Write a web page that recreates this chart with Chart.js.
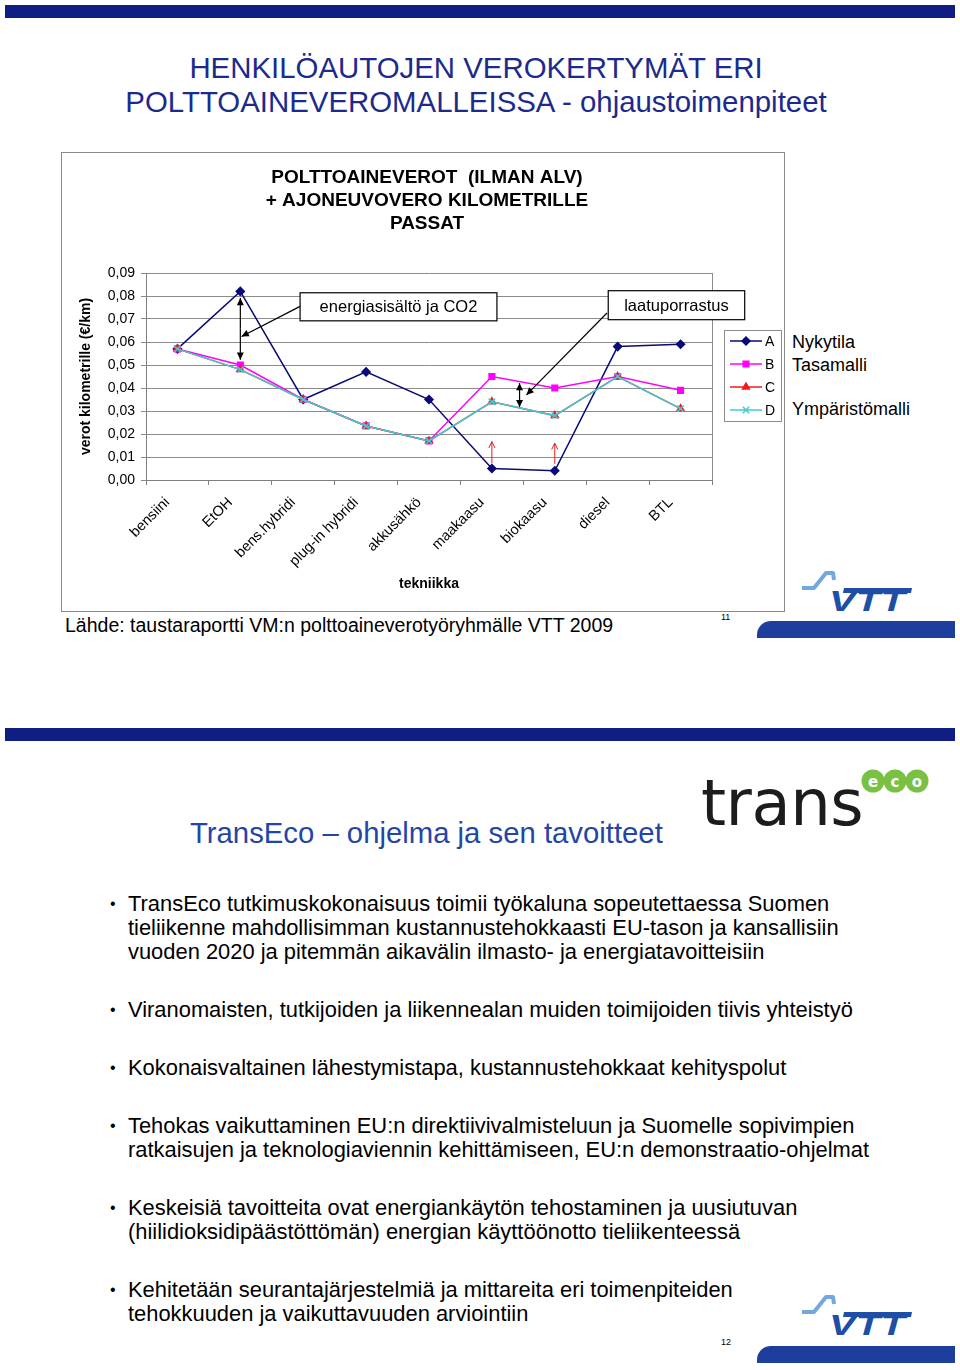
<!DOCTYPE html>
<html>
<head>
<meta charset="utf-8">
<script src="https://cdn.jsdelivr.net/npm/chart.js@4.4.0/dist/chart.umd.min.js"></script>
<style>
  body { margin: 0; width: 960px; height: 1370px; position: relative; background: #fff; overflow: hidden;
         font-family: "Liberation Sans", Arial, sans-serif; color: #000; }
  .topbar { position: absolute; left: 5px; width: 950px; height: 13px; background: #101d82; }
  .footbar { position: absolute; left: 757px; width: 198px; height: 17px; background: #1e3e9e; border-top-left-radius: 14px; }
  .abs { position: absolute; white-space: nowrap; }
  .slidetitle { color: #1c2a8e; font-size: 29.4px; line-height: 34px; text-align: center; }
  .pagenum { font-size: 9px; }
  #chartBox { position: absolute; left: 61px; top: 152px; width: 722px; height: 458px; border: 1px solid #8a8a8a; }
  .model { font-size: 18px; }
  ul { position: absolute; left: 110px; top: 892px; margin: 0; padding: 0; list-style: none; width: 840px; }
  li { position: relative; padding-left: 18px; font-size: 21.9px; line-height: 24px; margin-bottom: 34px; }
  li::before { content: "•"; position: absolute; left: 0; top: 0; font-size: 16px; }
</style>
</head>
<body>
<!-- slide 11 -->
<div class="topbar" style="top:5px"></div>
<div class="abs slidetitle" style="left:0; width:952px; top:51px;">HENKILÖAUTOJEN VEROKERTYMÄT ERI<br>POLTTOAINEVEROMALLEISSA - ohjaustoimenpiteet</div>

<div id="chartBox"><canvas id="chart" width="722" height="458"></canvas></div>

<div class="abs model" style="left:792px; top:332px;">Nykytila</div>
<div class="abs model" style="left:792px; top:355px;">Tasamalli</div>
<div class="abs model" style="left:792px; top:399px;">Ympäristömalli</div>

<div class="abs" style="left:65px; top:614px; font-size:19.5px;">Lähde: taustaraportti VM:n polttoaineverotyöryhmälle VTT 2009</div>
<div class="abs pagenum" style="left:721px; top:612px;">11</div>

<svg class="abs" style="left:798px; top:568px" width="118" height="46" viewBox="0 0 118 46">
  <polyline points="4,20 16,20 28,5 35,5 36,12" fill="none" stroke="#74a7dc" stroke-width="4" stroke-linejoin="round"/>
  <polygon points="46,20 114,20 113,25 45,25" fill="#1d4fa6"/>
  <text x="31" y="43" textLength="76" lengthAdjust="spacingAndGlyphs" font-family="Liberation Sans, Arial" font-weight="bold" font-style="italic" font-size="30" fill="#1d4fa6">VTT</text>
</svg>
<div class="footbar" style="top:621px"></div>

<!-- slide 12 -->
<div class="topbar" style="top:728px"></div>
<div class="abs" style="left:190px; top:816px; font-size:29.3px; color:#2346a6;">TransEco – ohjelma ja sen tavoitteet</div>

<svg class="abs" style="left:695px; top:758px" width="245" height="80" viewBox="0 0 245 80">
  <text x="6" y="67" font-family="DejaVu Sans, sans-serif" font-size="64" fill="#1c1c1c" letter-spacing="-0.5">trans</text>
  <circle cx="178" cy="23" r="11.5" fill="#79c142"/>
  <circle cx="200" cy="23" r="11.5" fill="#79c142"/>
  <circle cx="222" cy="23" r="11.5" fill="#79c142"/>
  <text x="178" y="28.5" text-anchor="middle" font-family="DejaVu Sans" font-weight="bold" font-size="15" fill="#fff">e</text>
  <text x="200" y="28.5" text-anchor="middle" font-family="DejaVu Sans" font-weight="bold" font-size="15" fill="#fff">c</text>
  <text x="222" y="28.5" text-anchor="middle" font-family="DejaVu Sans" font-weight="bold" font-size="15" fill="#fff">o</text>
</svg>

<ul>
  <li>TransEco tutkimuskokonaisuus toimii työkaluna sopeutettaessa Suomen<br>tieliikenne mahdollisimman kustannustehokkaasti EU-tason ja kansallisiin<br>vuoden 2020 ja pitemmän aikavälin ilmasto- ja energiatavoitteisiin</li>
  <li>Viranomaisten, tutkijoiden ja liikennealan muiden toimijoiden tiivis yhteistyö</li>
  <li>Kokonaisvaltainen lähestymistapa, kustannustehokkaat kehityspolut</li>
  <li>Tehokas vaikuttaminen EU:n direktiivivalmisteluun ja Suomelle sopivimpien<br>ratkaisujen ja teknologiaviennin kehittämiseen, EU:n demonstraatio-ohjelmat</li>
  <li>Keskeisiä tavoitteita ovat energiankäytön tehostaminen ja uusiutuvan<br>(hiilidioksidipäästöttömän) energian käyttöönotto tieliikenteessä</li>
  <li>Kehitetään seurantajärjestelmiä ja mittareita eri toimenpiteiden<br>tehokkuuden ja vaikuttavuuden arviointiin</li>
</ul>
<div class="abs pagenum" style="left:721px; top:1337px;">12</div>

<svg class="abs" style="left:798px; top:1292px" width="118" height="46" viewBox="0 0 118 46">
  <polyline points="4,20 16,20 28,5 35,5 36,12" fill="none" stroke="#74a7dc" stroke-width="4" stroke-linejoin="round"/>
  <polygon points="46,20 114,20 113,25 45,25" fill="#1d4fa6"/>
  <text x="31" y="43" textLength="76" lengthAdjust="spacingAndGlyphs" font-family="Liberation Sans, Arial" font-weight="bold" font-style="italic" font-size="30" fill="#1d4fa6">VTT</text>
</svg>
<div class="footbar" style="top:1346px"></div>

<script>
// chart data
const categories = ["bensiini", "EtOH", "bens.hybridi", "plug-in hybridi", "akkusähkö", "maakaasu", "biokaasu", "diesel", "BTL"];
const seriesNames = ["A", "B", "C", "D"];
const seriesA = [0.057, 0.082, 0.035, 0.047, 0.035, 0.005, 0.004, 0.058, 0.059];
const seriesB = [0.057, 0.050, 0.035, 0.0235, 0.017, 0.045, 0.040, 0.045, 0.039];
const seriesC = [0.057, 0.048, 0.035, 0.0235, 0.017, 0.034, 0.028, 0.045, 0.031];
const seriesD = [0.057, 0.048, 0.035, 0.0235, 0.017, 0.034, 0.028, 0.045, 0.031];
const yTickLabels = ["0,00", "0,01", "0,02", "0,03", "0,04", "0,05", "0,06", "0,07", "0,08", "0,09"];
const chartTitle = ["POLTTOAINEVEROT  (ILMAN ALV)", "+ AJONEUVOVERO KILOMETRILLE", "PASSAT"];

const FONT = "'Liberation Sans', Arial, sans-serif";

// callout boxes and arrows, placed in data coordinates (category index, value)
const calloutBoxes = [
  { text: "energiasisältö ja CO2", x0: 1.95, x1: 5.08, y0: 0.0814, y1: 0.0692 },
  { text: "laatuporrastus", x0: 6.85, x1: 9.02, y0: 0.0823, y1: 0.0697 }
];
const blackArrows = [
  { from: [1.0, 0.0660], to: [1.0, 0.0791] },
  { from: [1.0, 0.0660], to: [1.0, 0.0523] },
  { from: [1.95, 0.0755], to: [1.02, 0.0624] },
  { from: [5.44, 0.0370], to: [5.44, 0.0421] },
  { from: [5.44, 0.0370], to: [5.44, 0.0317] },
  { from: [6.83, 0.0726], to: [5.55, 0.0370] }
];
const redArrows = [
  { from: [5.0, 0.0073], to: [5.0, 0.0167] },
  { from: [6.0, 0.0070], to: [6.0, 0.0160] }
];

function arrowHead(ctx, x1, y1, x2, y2, size, open) {
  const a = Math.atan2(y2 - y1, x2 - x1);
  ctx.beginPath();
  ctx.moveTo(x2 - size * Math.cos(a - 0.45), y2 - size * Math.sin(a - 0.45));
  ctx.lineTo(x2, y2);
  ctx.lineTo(x2 - size * Math.cos(a + 0.45), y2 - size * Math.sin(a + 0.45));
  if (open) { ctx.stroke(); } else { ctx.closePath(); ctx.fill(); }
}

const calloutPlugin = {
  id: "callouts",
  beforeDatasetsDraw(chart) {
    // right edge of the plot frame
    const { ctx, chartArea } = chart;
    ctx.save();
    ctx.strokeStyle = "#8c8c8c";
    ctx.lineWidth = 1;
    ctx.beginPath();
    ctx.moveTo(chartArea.right + 0.5, chartArea.top);
    ctx.lineTo(chartArea.right + 0.5, chartArea.bottom);
    ctx.stroke();
    ctx.restore();
  },
  afterDraw(chart) {
    const { ctx, scales: { x, y }, chartArea } = chart;
    const px = v => x.getPixelForValue(v);
    const py = v => y.getPixelForValue(v);
    ctx.save();

    // chart title, centred over the plot area
    ctx.fillStyle = "#000";
    ctx.font = "bold 19px " + FONT;
    ctx.textAlign = "center";
    ctx.textBaseline = "middle";
    chartTitle.forEach((line, i) => {
      ctx.fillText(line, (chartArea.left + chartArea.right) / 2 - 2, chartArea.top - 95 + i * 23);
    });

    // boxes
    calloutBoxes.forEach(b => {
      const l = px(b.x0), r = px(b.x1), t = py(b.y0), btm = py(b.y1);
      ctx.fillStyle = "#fff";
      ctx.fillRect(l, t, r - l, btm - t);
      ctx.strokeStyle = "#000";
      ctx.lineWidth = 1.2;
      ctx.strokeRect(l, t, r - l, btm - t);
      ctx.fillStyle = "#000";
      ctx.font = "16.5px " + FONT;
      ctx.textAlign = "center";
      ctx.textBaseline = "middle";
      ctx.fillText(b.text, (l + r) / 2, (t + btm) / 2 + 1);
    });
    // black arrows
    ctx.strokeStyle = "#000";
    ctx.fillStyle = "#000";
    ctx.lineWidth = 1.2;
    blackArrows.forEach(a => {
      const x1 = px(a.from[0]), y1 = py(a.from[1]), x2 = px(a.to[0]), y2 = py(a.to[1]);
      ctx.beginPath(); ctx.moveTo(x1, y1); ctx.lineTo(x2, y2); ctx.stroke();
      arrowHead(ctx, x1, y1, x2, y2, 8, false);
    });
    // red arrows
    ctx.strokeStyle = "#e02020";
    ctx.lineWidth = 1;
    redArrows.forEach(a => {
      const x1 = px(a.from[0]), y1 = py(a.from[1]), x2 = px(a.to[0]), y2 = py(a.to[1]);
      ctx.beginPath(); ctx.moveTo(x1, y1); ctx.lineTo(x2, y2); ctx.stroke();
      arrowHead(ctx, x1, y1, x2, y2, 7, true);
    });

    // legend with line + marker, like the spreadsheet legend
    const lx = chartArea.right + 12, ly = chartArea.top + 57;
    ctx.fillStyle = "#fff";
    ctx.fillRect(lx, ly, 57, 91);
    ctx.strokeStyle = "#8c8c8c";
    ctx.lineWidth = 1;
    ctx.strokeRect(lx + 0.5, ly + 0.5, 57, 91);
    chart.data.datasets.forEach((ds, i) => {
      const rowY = ly + 11 + i * 23;
      ctx.strokeStyle = ds.borderColor;
      ctx.lineWidth = 1.5;
      ctx.beginPath(); ctx.moveTo(lx + 6, rowY); ctx.lineTo(lx + 38, rowY); ctx.stroke();
      ctx.fillStyle = ds.pointBackgroundColor;
      ctx.strokeStyle = ds.pointBorderColor;
      ctx.lineWidth = ds.pointBorderWidth;
      Chart.helpers.drawPoint(ctx, { pointStyle: ds.pointStyle, rotation: 0, radius: ds.pointRadius, borderWidth: ds.pointBorderWidth }, lx + 22, rowY);
      ctx.fillStyle = "#000";
      ctx.font = "14px " + FONT;
      ctx.textAlign = "left";
      ctx.textBaseline = "middle";
      ctx.fillText(ds.label, lx + 41, rowY + 1);
    });
    ctx.restore();
  }
};

function lineSet(label, data, color, style, order, radius) {
  return {
    label: label,
    data: data,
    borderColor: color,
    borderWidth: 1.5,
    pointStyle: style,
    pointRadius: radius,
    pointBackgroundColor: color,
    pointBorderColor: color,
    pointBorderWidth: 1.5,
    tension: 0,
    order: order
  };
}

new Chart(document.getElementById("chart"), {
  type: "line",
  data: {
    labels: categories,
    datasets: [
      lineSet(seriesNames[0], seriesA, "#0a0a78", "rectRot", 4, 4),
      lineSet(seriesNames[1], seriesB, "#ff00ff", "rect", 3, 4),
      lineSet(seriesNames[2], seriesC, "#ee1c1c", "triangle", 2, 4),
      lineSet(seriesNames[3], seriesD, "#40ccd4", "crossRot", 1, 4.5)
    ]
  },
  options: {
    responsive: false,
    animation: false,
    layout: { padding: { left: 0, right: 72, top: 120, bottom: 0 } },
    plugins: {
      legend: { display: false },
      tooltip: { enabled: false },
      title: { display: false }
    },
    scales: {
      x: {
        offset: true,
        grid: { drawOnChartArea: false, drawTicks: true, tickLength: 5, color: "#808080", offset: true },
        border: { color: "#808080" },
        ticks: { color: "#000", font: { family: FONT, size: 14.5 }, minRotation: 45, maxRotation: 45, autoSkip: false, padding: 9, labelOffset: -10 },
        title: { display: true, text: "tekniikka", color: "#000", font: { family: FONT, size: 14, weight: "bold" }, padding: { top: 0, bottom: 18 } },
        afterFit: s => { s.height = 131; }
      },
      y: {
        min: 0,
        max: 0.09,
        grid: { color: "#8c8c8c", tickLength: 5 },
        border: { color: "#808080" },
        ticks: { stepSize: 0.01, color: "#000", font: { family: FONT, size: 14 }, padding: 6, callback: (v, i) => yTickLabels[i] },
        title: { display: true, text: "verot kilometrille (€/km)", color: "#000", font: { family: FONT, size: 14, weight: "bold" }, padding: { top: 16, bottom: 0 } },
        afterFit: s => { s.width = 84; }
      }
    }
  },
  plugins: [calloutPlugin]
});
</script>
</body>
</html>
